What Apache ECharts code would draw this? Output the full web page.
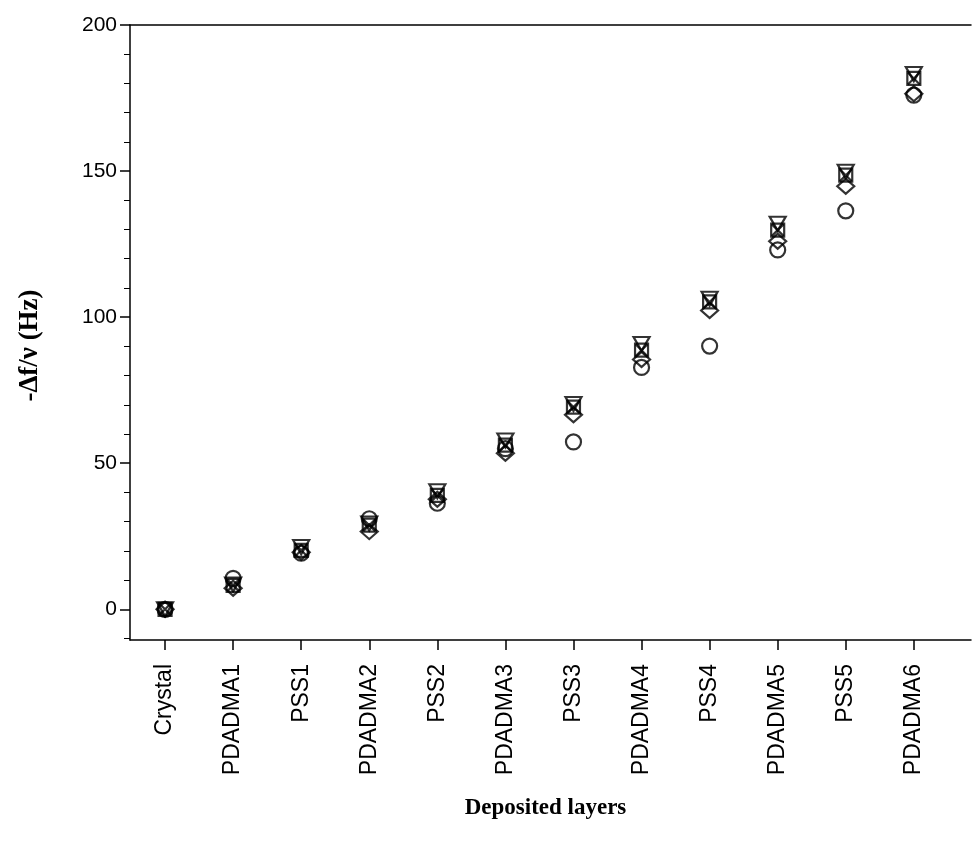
<!DOCTYPE html>
<html>
<head>
<meta charset="utf-8">
<script src="https://cdn.jsdelivr.net/npm/echarts@6/dist/echarts.min.js"></script>
<style>html,body{margin:0;padding:0;background:#fff}#c{width:973px;height:850px}</style>
</head>
<body>
<div id="c"></div>
<script>
const categories = ['Crystal','PDADMA1','PSS1','PDADMA2','PSS2','PDADMA3','PSS3','PDADMA4','PSS4','PDADMA5','PSS5','PDADMA6'];
const circleVals   = [0, 10.6, 19.2, 31.0, 36.3, 55.0, 57.3, 82.8, 90.1, 123.0, 136.4, 176.0];
const diamondVals  = [0, 7.2, 19.5, 26.6, 37.7, 53.4, 66.6, 85.5, 102.3, 126.0, 144.8, 176.5];
const squareVals   = [0, 8.2, 20.2, 28.8, 39.0, 56.2, 69.2, 88.7, 105.2, 129.8, 148.6, 181.7];
const triangleVals = [0, 8.5, 21.3, 29.4, 40.4, 57.8, 70.3, 90.8, 106.3, 132.0, 149.8, 183.2];
const crossVals    = [0, 8.2, 20.2, 28.8, 39.0, 56.2, 69.2, 88.7, 105.2, 129.8, 148.6, 181.7];
const yMajorTicks = [0, 50, 100, 150, 200];
const yMinorTicks = [-10, 10, 20, 30, 40, 60, 70, 80, 90, 110, 120, 130, 140, 160, 170, 180, 190];

const idx = categories.map((c, i) => i);
const pts = vals => vals.map((v, i) => [i, v]);
const mk = (name, symbol, size, vals) => ({
  name, type: 'scatter', data: pts(vals), symbol, symbolSize: size,
  itemStyle: { color: 'rgba(0,0,0,0)', borderColor: '#000', borderWidth: 2.2 },
  emphasis: { disabled: true }, z: 3
});

const chart = echarts.init(document.getElementById('c'), null, { renderer: 'canvas' });
chart.setOption({
  animation: false,
  backgroundColor: '#fff',
  grid: { left: 130, right: 2, top: 25, bottom: 210, containLabel: false },
  xAxis: [{
    type: 'value', position: 'bottom', min: -0.515, max: 11.84,
    name: 'Deposited layers', nameLocation: 'middle', nameGap: 157,
    nameTextStyle: { fontFamily: 'Liberation Serif', fontWeight: 'bold', fontSize: 23, color: '#000', padding: [0, 10, 0, 0] },
    axisLine: { show: true, onZero: false, lineStyle: { color: '#000', width: 1.5 } },
    axisTick: { show: true, customValues: idx, length: 10, inside: false, lineStyle: { color: '#000', width: 1.5 } },
    axisLabel: { customValues: idx, rotate: 90, margin: 24, fontFamily: 'Liberation Sans', fontSize: 23, color: '#000',
      formatter: v => categories[Math.round(v)] },
    splitLine: { show: false }
  }, {
    type: 'value', position: 'top', min: -0.515, max: 11.84,
    axisLine: { show: true, onZero: false, lineStyle: { color: '#000', width: 1.5 } },
    axisTick: { show: false }, axisLabel: { show: false }, splitLine: { show: false }
  }],
  yAxis: [{
    type: 'value', position: 'left', min: -10.5, max: 200,
    name: '-Δf/ν (Hz)', nameLocation: 'middle', nameGap: 86,
    nameTextStyle: { fontFamily: 'Liberation Serif', fontWeight: 'bold', fontSize: 27, color: '#000', padding: [0, 26, 0, 0] },
    axisLine: { show: true, onZero: false, lineStyle: { color: '#000', width: 1.5 } },
    axisTick: { show: true, customValues: yMajorTicks, length: 10, lineStyle: { color: '#000', width: 1.5 } },
    axisLabel: { customValues: yMajorTicks, margin: 13, fontFamily: 'Liberation Sans', fontSize: 21, color: '#000' },
    splitLine: { show: false }
  }, {
    type: 'value', position: 'left', min: -10.5, max: 200,
    axisLine: { show: false, onZero: false },
    axisTick: { show: true, customValues: yMinorTicks, length: 6, lineStyle: { color: '#000', width: 1 } },
    axisLabel: { show: false }, splitLine: { show: false }
  }],
  series: [
    mk('circle', 'circle', 15, circleVals),
    mk('diamond', 'diamond', [17, 15], diamondVals),
    mk('square', 'rect', 13, squareVals),
    mk('triangle', 'path://M0,0L10,0L5,9Z', [16, 14], triangleVals),
    mk('cross', 'path://M0,0L10,10M10,0L0,10', 12, crossVals)
  ]
});
</script>
</body>
</html>
